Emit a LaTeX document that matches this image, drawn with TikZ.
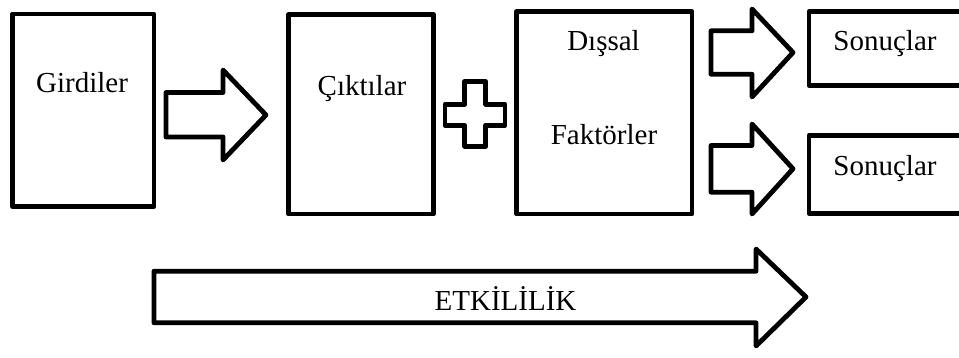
\documentclass[tikz,border=0pt]{standalone}
\usepackage{fontspec}
\setmainfont{Liberation Serif}
\begin{document}
\begin{tikzpicture}[x=0.75pt,y=-0.75pt,
  shapeline/.style={draw=black, line width=3.6pt, line join=round, fill=white},
  lbl/.style={anchor=base, inner sep=0pt, font=\fontsize{21.75}{26}\selectfont}]
\useasboundingbox (0,0) rectangle (959,357);
\clip (0,0) rectangle (959,357);
% boxes
\draw[shapeline] (12.5,14) rectangle (154,206.5);
\draw[shapeline] (288.5,14.5) rectangle (433.5,214);
\draw[shapeline] (516.5,11.5) rectangle (692,214);
\draw[shapeline] (809,11.5) rectangle (975,85.5);
\draw[shapeline] (809,135.3) rectangle (975,213.5);
% block arrows
\draw[shapeline] (166,92.5) -- (223,92.5) -- (223,70) -- (266,115) -- (223,160) -- (223,137) -- (166,137) -- cycle;
\draw[shapeline] (711,30.8) -- (752,30.8) -- (752,9) -- (793,52.5) -- (752,97) -- (752,74.2) -- (711,74.2) -- cycle;
\draw[shapeline] (711,145.5) -- (752,145.5) -- (752,124) -- (793,168.8) -- (752,214) -- (752,192.2) -- (711,192.2) -- cycle;
\draw[shapeline] (154,271.2) -- (756,271.2) -- (756,249) -- (806,297) -- (756,346) -- (756,322.8) -- (154,322.8) -- cycle;
% plus sign
\draw[shapeline] (464.8,81.5) -- (485.8,81.5) -- (485.8,104.2) -- (505,104.2) -- (505,125.2) -- (485.8,125.2) -- (485.8,146.3) -- (464.8,146.3) -- (464.8,125.2) -- (445,125.2) -- (445,104.2) -- (464.8,104.2) -- cycle;
% labels
\node[lbl] (girdiler) at (82,92) {Girdiler};
\node[lbl] (ciktilar) at (362,95) {Çıktılar};
\node[lbl] (dissal) at (603.5,50) {Dışsal};
\node[lbl] (faktorler) at (604,144) {Faktörler};
\node[lbl] (sonuc1) at (885,50) {Sonuçlar};
\node[lbl] (sonuc2) at (885,175) {Sonuçlar};
\node[lbl] (etkililik) at (505.5,310) {ETKİLİLİK};
\end{tikzpicture}
\end{document}
